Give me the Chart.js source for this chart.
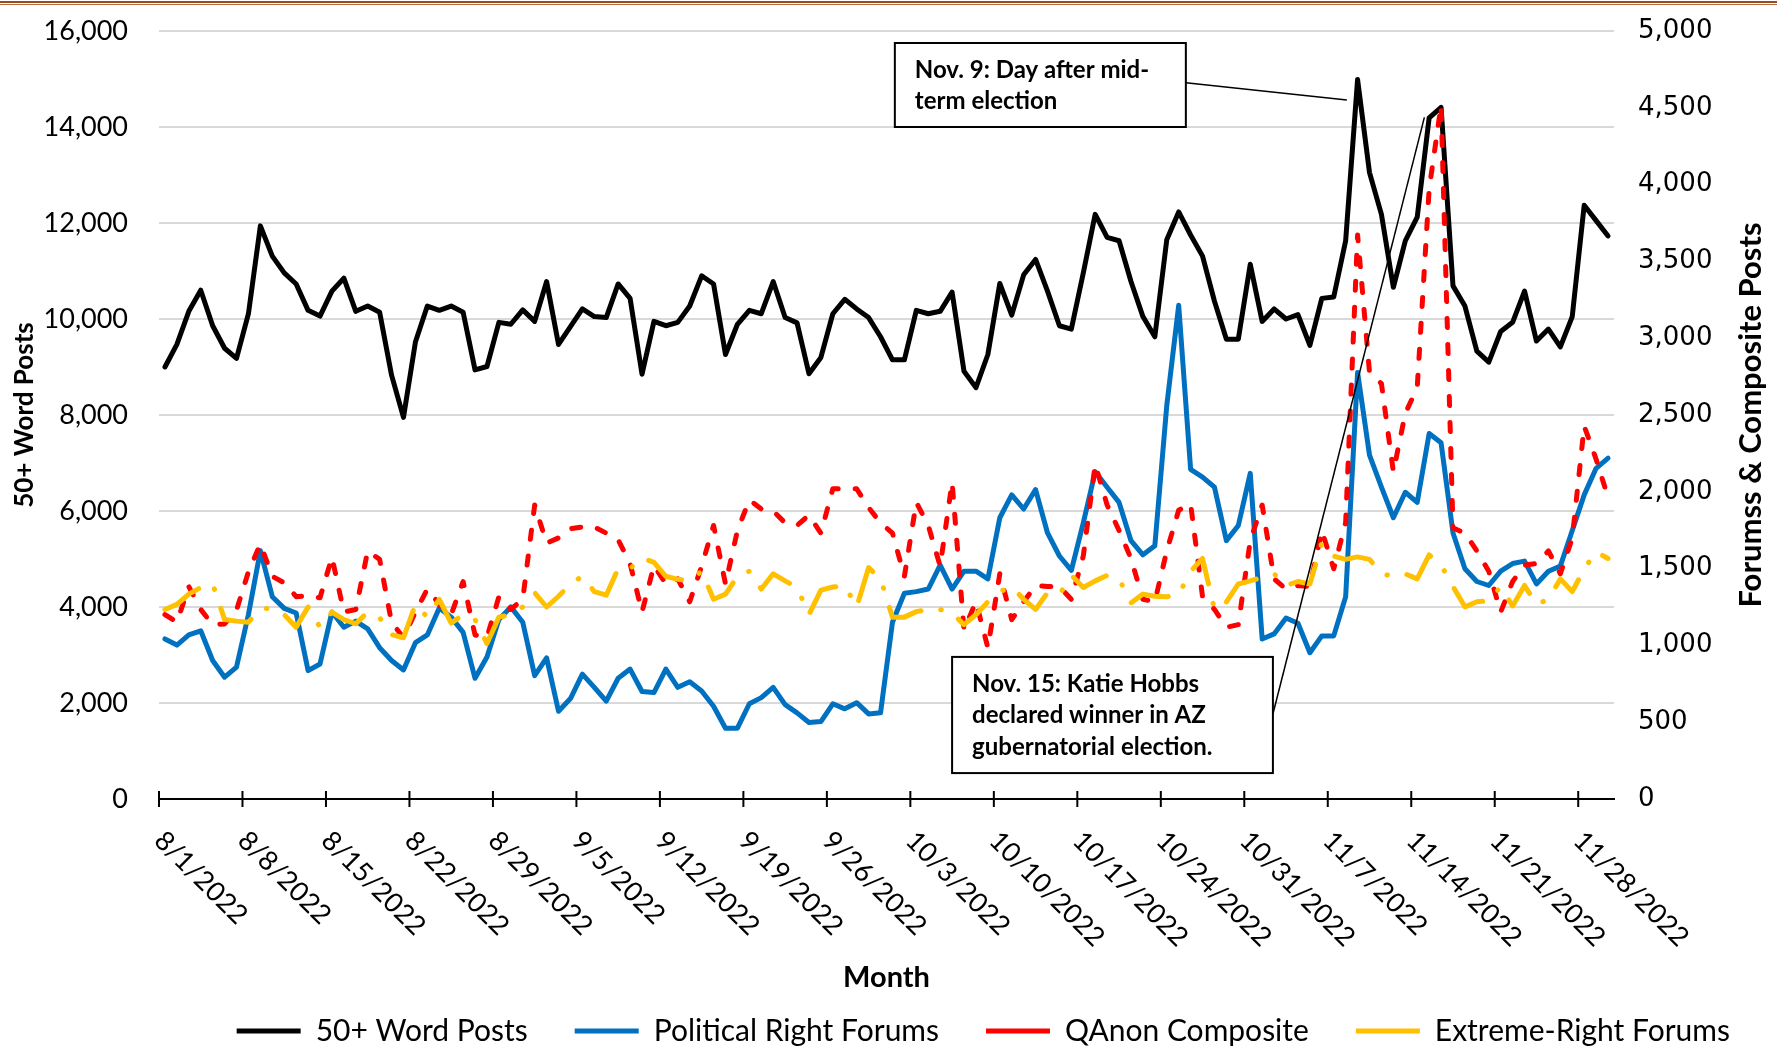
<!DOCTYPE html>
<html>
<head>
<meta charset="utf-8">
<script src="https://cdn.jsdelivr.net/npm/chart.js@4.4.1/dist/chart.umd.min.js"></script>
<style>
  html, body { margin: 0; padding: 0; background: #fff; }
  #wrap { position: relative; width: 1777px; height: 1052px; overflow: hidden; }
  #chart { position: absolute; left: 0; top: 0; }
  .rule1 { position: absolute; left: 0; top: 1px; width: 1777px; height: 2px; background: #9a4a22; }
  .rule2 { position: absolute; left: 0; top: 4px; width: 1777px; height: 1px; background: #b36b40; }
</style>
</head>
<body>
<div id="wrap">
  <canvas id="chart" width="1777" height="1052"></canvas>
  <div class="rule1"></div>
  <div class="rule2"></div>
</div>
<script>
// Daily counts, 8/1/2022 .. 11/30/2022 (one value per day, rows = weeks)
const wordPosts = [
    9000, 9470, 10160, 10600, 9860, 9390, 9180,
    10110, 11940, 11310, 10960, 10730, 10180, 10060,
    10580, 10850, 10160, 10270, 10140, 8830, 7950,
    9520, 10270, 10180, 10270, 10140, 8940, 9010,
    9930, 9890, 10190, 9950, 10780, 9470, 9840,
    10210, 10050, 10030, 10730, 10430, 8850, 9950,
    9860, 9930, 10270, 10900, 10730, 9260, 9890,
    10180, 10110, 10780, 10030, 9920, 8860, 9200,
    10110, 10410, 10210, 10030, 9630, 9150, 9150,
    10180, 10110, 10160, 10560, 8910, 8570, 9260,
    10740, 10080, 10920, 11240, 10580, 9860, 9790,
    10960, 12180, 11700, 11630, 10780, 10050, 9630,
    11650, 12230, 11750, 11310, 10370, 9580, 9580,
    11140, 9950, 10210, 10000, 10090, 9450, 10430,
    10460, 11630, 14990, 13050, 12180, 10660, 11630,
    12120, 14190, 14410, 10690, 10270, 9330, 9100,
    9740, 9930, 10580, 9540, 9790, 9420, 10050,
    12370, 12050, 11730
];

const politicalRight = [
    1042, 1002, 1068, 1095, 902, 793, 859,
    1201, 1616, 1317, 1241, 1211, 836, 879,
    1217, 1118, 1158, 1108, 985, 902, 840,
    1018, 1068, 1244, 1184, 1085, 786, 925,
    1168, 1251, 1151, 803, 919, 571, 654,
    813, 727, 637, 786, 846, 700, 693,
    846, 727, 763, 703, 604, 461, 461,
    620, 660, 727, 614, 561, 498, 504,
    620, 587, 627, 554, 561, 1151, 1340,
    1350, 1367, 1523, 1367, 1483, 1483, 1433,
    1831, 1980, 1888, 2014, 1732, 1582, 1489,
    1798, 2130, 2030, 1931, 1682, 1590, 1649,
    2561, 3214, 2146, 2096, 2030, 1682, 1781,
    2120, 1042, 1075, 1178, 1144, 952, 1062,
    1062, 1317, 2777, 2239, 2030, 1831, 1997,
    1931, 2379, 2319, 1732, 1499, 1416, 1390,
    1483, 1533, 1549, 1400, 1483, 1516, 1748,
    1980, 2153, 2219
];

const qanonComposite = [
    1200, 1151, 1383, 1234, 1135, 1140, 1230,
    1480, 1660, 1450, 1407, 1317, 1324, 1310,
    1575, 1217, 1234, 1615, 1560, 1150, 1050,
    1217, 1367, 1267, 1201, 1416, 1068, 1052,
    1317, 1234, 1300, 1914, 1665, 1700, 1760,
    1771, 1771, 1731, 1688, 1533, 1217, 1520,
    1400, 1433, 1284, 1516, 1781, 1400, 1748,
    1947, 1888, 1874, 1798, 1781, 1848, 1731,
    2020, 2020, 2020, 1897, 1798, 1731, 1450,
    1931, 1781, 1516, 2063, 1101, 1284, 985,
    1466, 1168, 1284, 1390, 1383, 1383, 1300,
    1582, 2179, 1914, 1748, 1566, 1300, 1284,
    1616, 1880, 1921, 1317, 1234, 1118, 1135,
    1682, 1914, 1433, 1367, 1390, 1383, 1748,
    1499, 1800, 3672, 2777, 2704, 2130, 2511,
    2677, 3970, 4518, 1765, 1731, 1615, 1483,
    1217, 1416, 1523, 1533, 1615, 1466, 1698,
    2428, 2212, 1964
];

const extremeRight = [
    1234, 1267, 1334, 1377, 1400, 1168, 1158,
    1151, 1240, 1240, 1200, 1118, 1250, 1118,
    1217, 1168, 1141, 1217, 1180, 1070, 1050,
    1267, 1184, 1300, 1145, 1201, 1168, 1012,
    1184, 1201, 1250, 1343, 1250, 1320, 1400,
    1450, 1350, 1327, 1500, 1500, 1570, 1540,
    1450, 1430, 1423, 1483, 1300, 1334, 1450,
    1483, 1367, 1466, 1420, 1377, 1201, 1360,
    1380, 1390, 1250, 1506, 1433, 1184, 1184,
    1220, 1234, 1234, 1211, 1135, 1200, 1284,
    1350, 1383, 1300, 1234, 1343, 1330, 1456,
    1377, 1420, 1456, 1433, 1277, 1334, 1320,
    1317, 1330, 1483, 1566, 1234, 1284, 1400,
    1420, 1443, 1466, 1390, 1416, 1400, 1665,
    1582, 1560, 1576, 1560, 1466, 1450, 1466,
    1433, 1589, 1523, 1383, 1251, 1284, 1290,
    1383, 1257, 1390, 1267, 1300, 1433, 1350,
    1499, 1609, 1566
];

// Weekly tick labels and the day index each one sits on
const tickDays = [0, 7, 14, 21, 28, 35, 42, 49, 56, 63, 70, 77, 84, 91, 98, 105, 112, 119];
const tickLabels = ['8/1/2022', '8/8/2022', '8/15/2022', '8/22/2022', '8/29/2022', '9/5/2022',
    '9/12/2022', '9/19/2022', '9/26/2022', '10/3/2022', '10/10/2022', '10/17/2022',
    '10/24/2022', '10/31/2022', '11/7/2022', '11/14/2022', '11/21/2022', '11/28/2022'];

// Callout boxes: box = [day left, value top, day right, value bottom] on the left axis
const notes = [
    {
        lines: ['Nov. 9: Day after mid-', 'term election'],
        box: [61.2, 15750, 85.6, 14000],
        from: [85.6, 14920],
        to: [99.1, 14560]
    },
    {
        lines: ['Nov. 15: Katie Hobbs', 'declared winner in AZ', 'gubernatorial election.'],
        box: [66.0, 2960, 92.9, 540],
        from: [92.9, 1770],
        to: [105.6, 14200]
    }
];

const asPoints = arr => arr.map((v, i) => ({ x: i, y: v }));
const fmt = v => Number(v).toLocaleString('en-US');

// keep the tick padding from pushing the plot area down
const fixWidth = w => scale => {
    scale.width = w;
    scale.paddingTop = 0;
    scale.paddingBottom = 0;
};

Chart.defaults.font.family = 'Lato, sans-serif';
Chart.defaults.color = '#000';

const overlay = {
    id: 'overlay',
    afterDatasetsDraw(chart) {
        const { ctx, scales: { x, y } } = chart;
        ctx.save();
        notes.forEach(n => {
            const x0 = x.getPixelForValue(n.box[0]);
            const y0 = y.getPixelForValue(n.box[1]);
            const x1 = x.getPixelForValue(n.box[2]);
            const y1 = y.getPixelForValue(n.box[3]);
            ctx.strokeStyle = '#000';
            ctx.lineWidth = 1.5;
            ctx.beginPath();
            ctx.moveTo(x.getPixelForValue(n.from[0]), y.getPixelForValue(n.from[1]));
            ctx.lineTo(x.getPixelForValue(n.to[0]), y.getPixelForValue(n.to[1]));
            ctx.stroke();
            ctx.fillStyle = '#fff';
            ctx.fillRect(x0, y0, x1 - x0, y1 - y0);
            ctx.lineWidth = 2;
            ctx.strokeRect(x0, y0, x1 - x0, y1 - y0);
            ctx.fillStyle = '#000';
            ctx.font = 'bold 24px Lato';
            ctx.textAlign = 'left';
            ctx.textBaseline = 'middle';
            n.lines.forEach((t, i) => ctx.fillText(t, x0 + 20, y0 + 27 + i * 31.5));
        });
        ctx.restore();
    },
    afterDraw(chart) {
        const { ctx, chartArea, scales: { x, y2 } } = chart;
        const bottom = chartArea.bottom;
        ctx.save();
        // crossing tick marks + rotated date labels
        ctx.strokeStyle = '#000';
        ctx.lineWidth = 2;
        ctx.fillStyle = '#000';
        ctx.font = '27px Lato';
        ctx.textAlign = 'left';
        ctx.textBaseline = 'middle';
        tickDays.forEach((d, i) => {
            const px = x.getPixelForValue(d - 0.5);
            ctx.beginPath();
            ctx.moveTo(px, bottom - 8);
            ctx.lineTo(px, bottom + 8);
            ctx.stroke();
            ctx.save();
            ctx.translate(px, bottom + 37);
            ctx.rotate(Math.PI / 4);
            ctx.fillText(tickLabels[i], 0, 0);
            ctx.restore();
        });
        // right axis title, reading bottom to top
        ctx.save();
        ctx.translate(y2.right - 26, (chartArea.top + chartArea.bottom) / 2);
        ctx.rotate(-Math.PI / 2);
        ctx.font = 'bold 31px Lato';
        ctx.textAlign = 'center';
        ctx.fillText('Forumss & Composite Posts', 0, 0);
        ctx.restore();
        ctx.restore();
    }
};

new Chart(document.getElementById('chart'), {
    type: 'line',
    data: {
        datasets: [
            {
                label: '50+ Word Posts',
                data: asPoints(wordPosts),
                yAxisID: 'y',
                borderColor: '#000000',
                backgroundColor: '#000000',
                borderWidth: 5,
                borderCapStyle: 'round',
                order: 4
            },
            {
                label: 'Political Right Forums',
                data: asPoints(politicalRight),
                yAxisID: 'y2',
                borderColor: '#0070c0',
                backgroundColor: '#0070c0',
                borderWidth: 5,
                borderCapStyle: 'round',
                order: 3
            },
            {
                label: 'QAnon Composite',
                data: asPoints(qanonComposite),
                yAxisID: 'y2',
                borderColor: '#ff0000',
                backgroundColor: '#ff0000',
                borderWidth: 5,
                borderDash: [9, 17],
                borderCapStyle: 'round',
                order: 2
            },
            {
                label: 'Extreme-Right Forums',
                data: asPoints(extremeRight),
                yAxisID: 'y2',
                borderColor: '#ffc000',
                backgroundColor: '#ffc000',
                borderWidth: 5,
                borderDash: [40, 20, 0.5, 20],
                borderCapStyle: 'round',
                order: 1
            }
        ]
    },
    options: {
        responsive: false,
        animation: false,
        devicePixelRatio: 1,
        layout: { padding: { top: 31, left: 0, right: 0, bottom: -4 } },
        elements: {
            point: { radius: 0 },
            line: { tension: 0, borderJoinStyle: 'round' }
        },
        plugins: {
            tooltip: { enabled: false },
            legend: {
                position: 'bottom',
                align: 'end',
                labels: {
                    usePointStyle: true,
                    pointStyle: 'line',
                    pointStyleWidth: 64,
                    padding: 47,
                    color: '#000',
                    font: { size: 30 },
                    sort: (a, b) => a.datasetIndex - b.datasetIndex
                }
            }
        },
        scales: {
            x: {
                type: 'linear',
                min: -0.5,
                max: 121.5,
                grid: { display: false },
                border: { display: true, color: '#000', width: 2 },
                ticks: { display: false },
                title: {
                    display: true,
                    text: 'Month',
                    color: '#000',
                    font: { size: 29, weight: 'bold' },
                    padding: { top: 0, bottom: -26 }
                },
                afterFit(scale) { scale.height = 170; }
            },
            y: {
                position: 'left',
                min: 0,
                max: 16000,
                grid: { color: '#d9d9d9', lineWidth: 2, drawTicks: false },
                border: { display: false },
                ticks: { stepSize: 2000, padding: 31, color: '#000', font: { size: 27 }, callback: fmt },
                title: {
                    display: true,
                    text: '50+ Word Posts',
                    color: '#000',
                    font: { size: 26, weight: 'bold' },
                    padding: { top: 9, bottom: 0 }
                },
                afterFit: fixWidth(159)
            },
            y2: {
                position: 'right',
                min: 0,
                max: 5000,
                grid: { display: false, drawTicks: false },
                border: { display: false },
                ticks: { stepSize: 500, padding: 24, color: '#000', font: { family: 'DejaVu Sans', size: 26 }, callback: fmt },
                afterFit: fixWidth(163)
            }
        }
    },
    plugins: [overlay]
});
</script>
</body>
</html>
